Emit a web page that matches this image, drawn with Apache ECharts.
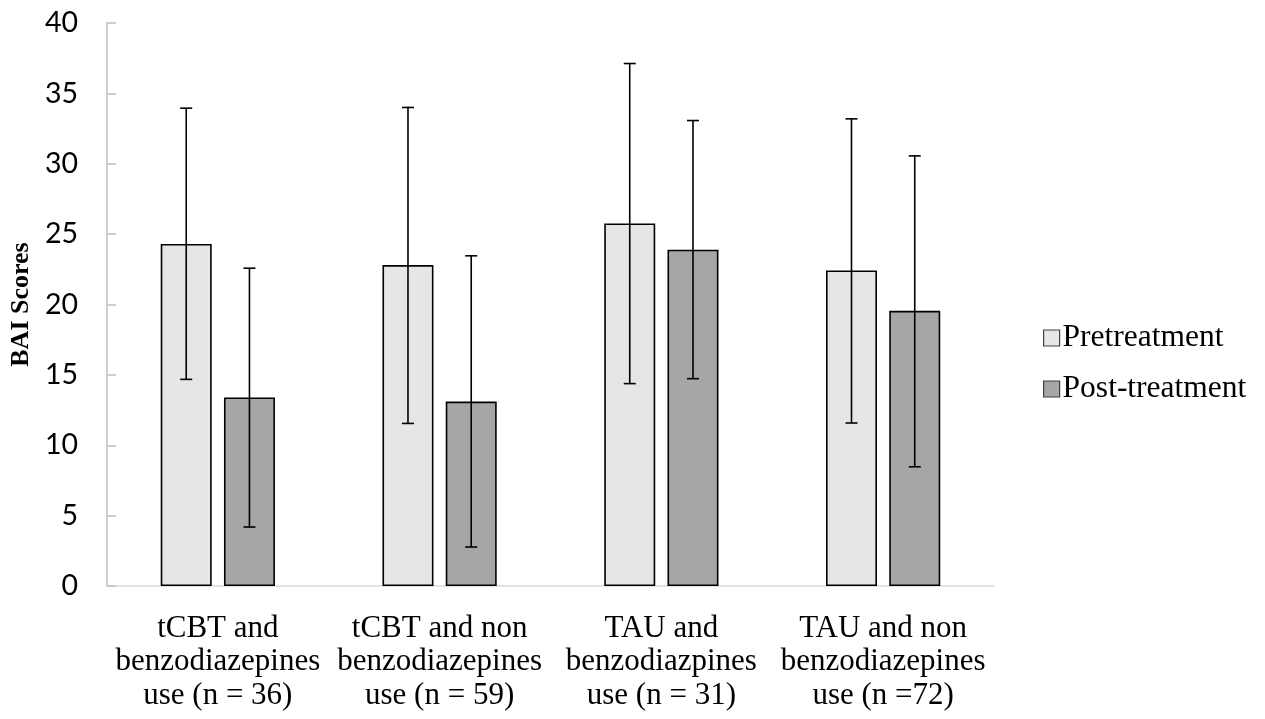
<!DOCTYPE html>
<html>
<head>
<meta charset="utf-8">
<style>html,body{margin:0;padding:0;background:#fff;}#c{width:1265px;height:719px;}</style>
<script src="https://cdn.jsdelivr.net/npm/echarts@6/dist/echarts.min.js"></script>
</head>
<body>
<div id="c"></div>
<script>
const categories = [
  'tCBT and\nbenzodiazepines\nuse (n = 36)',
  'tCBT and non\nbenzodiazepines\nuse (n = 59)',
  'TAU and\nbenzodiazpines\nuse (n = 31)',
  'TAU and non\nbenzodiazepines\nuse (n =72)'
];
const seriesNames = ['Pretreatment', 'Post-treatment'];
const preMean = [24.3, 22.8, 25.76, 22.42];
const preLow = [14.68, 11.55, 14.38, 11.58];
const preHigh = [33.95, 34.0, 37.12, 33.19];
const postMean = [13.4, 13.1, 23.89, 19.55];
const postLow = [4.19, 2.77, 14.73, 8.47];
const postHigh = [22.58, 23.46, 33.07, 30.56];

const BAR_W = 51;
const GAP = 0.24;
const offset = (BAR_W + BAR_W * GAP) / 2;

function errData(low, high) {
  return categories.map((c, i) => [i, low[i], high[i]]);
}
function errRender(sign) {
  return function (params, api) {
    const i = api.value(0);
    const lo = api.coord([i, api.value(1)]);
    const hi = api.coord([i, api.value(2)]);
    const x = lo[0] + sign * offset;
    const cap = 6;
    const style = { stroke: '#000', lineWidth: 1.6, fill: null };
    return {
      type: 'group',
      children: [
        { type: 'line', shape: { x1: x, y1: lo[1], x2: x, y2: hi[1] }, style },
        { type: 'line', shape: { x1: x - cap, y1: lo[1], x2: x + cap, y2: lo[1] }, style },
        { type: 'line', shape: { x1: x - cap, y1: hi[1], x2: x + cap, y2: hi[1] }, style }
      ]
    };
  };
}

const chart = echarts.init(document.getElementById('c'));
chart.setOption({
  backgroundColor: '#fff',
  animation: false,
  grid: { left: 106, right: 271, top: 23, bottom: 133, containLabel: false },
  legend: {
    orient: 'vertical',
    left: 1038,
    top: 316,
    icon: 'rect',
    itemWidth: 16,
    itemHeight: 16,
    itemGap: 17,
    data: seriesNames,
    textStyle: { fontFamily: 'Liberation Serif', fontSize: 31.5, color: '#000', lineHeight: 34, padding: [0, 0, 0, -2] },
    itemStyle: { borderColor: '#404040', borderWidth: 1.2 }
  },
  xAxis: {
    type: 'category',
    data: categories,
    axisLine: { lineStyle: { color: '#d9d9d9', width: 1.5 } },
    axisTick: { inside: true, length: 10, lineStyle: { color: '#d9d9d9', width: 1.5 } },
    axisLabel: { interval: 0, margin: 26, fontFamily: 'Liberation Serif', fontSize: 31, lineHeight: 33.5, color: '#000', align: 'center' }
  },
  yAxis: {
    type: 'value',
    min: 0, max: 40, interval: 5,
    name: 'BAI Scores',
    nameLocation: 'middle',
    nameRotate: 90,
    nameGap: 68,
    nameTextStyle: { fontFamily: 'Liberation Serif', fontWeight: 'bold', fontSize: 26, color: '#000' },
    axisLine: { show: true, lineStyle: { color: '#bfbfbf', width: 1.5 } },
    axisTick: { show: true, inside: true, length: 9, lineStyle: { color: '#bfbfbf', width: 1.5 } },
    splitLine: { show: false },
    axisLabel: { margin: 29, fontFamily: 'Lato', fontSize: 28.5, color: '#000' }
  },
  series: [
    {
      name: seriesNames[0], type: 'bar', data: preMean, barWidth: BAR_W, barGap: (GAP * 100) + '%',
      itemStyle: { color: '#e6e6e6', borderColor: '#000', borderWidth: 1.6 }
    },
    {
      name: seriesNames[1], type: 'bar', data: postMean, barWidth: BAR_W, barGap: (GAP * 100) + '%',
      itemStyle: { color: '#a6a6a6', borderColor: '#000', borderWidth: 1.6 }
    },
    { type: 'custom', renderItem: errRender(-1), data: errData(preLow, preHigh), z: 10, silent: true },
    { type: 'custom', renderItem: errRender(1), data: errData(postLow, postHigh), z: 10, silent: true }
  ]
});
</script>
</body>
</html>
